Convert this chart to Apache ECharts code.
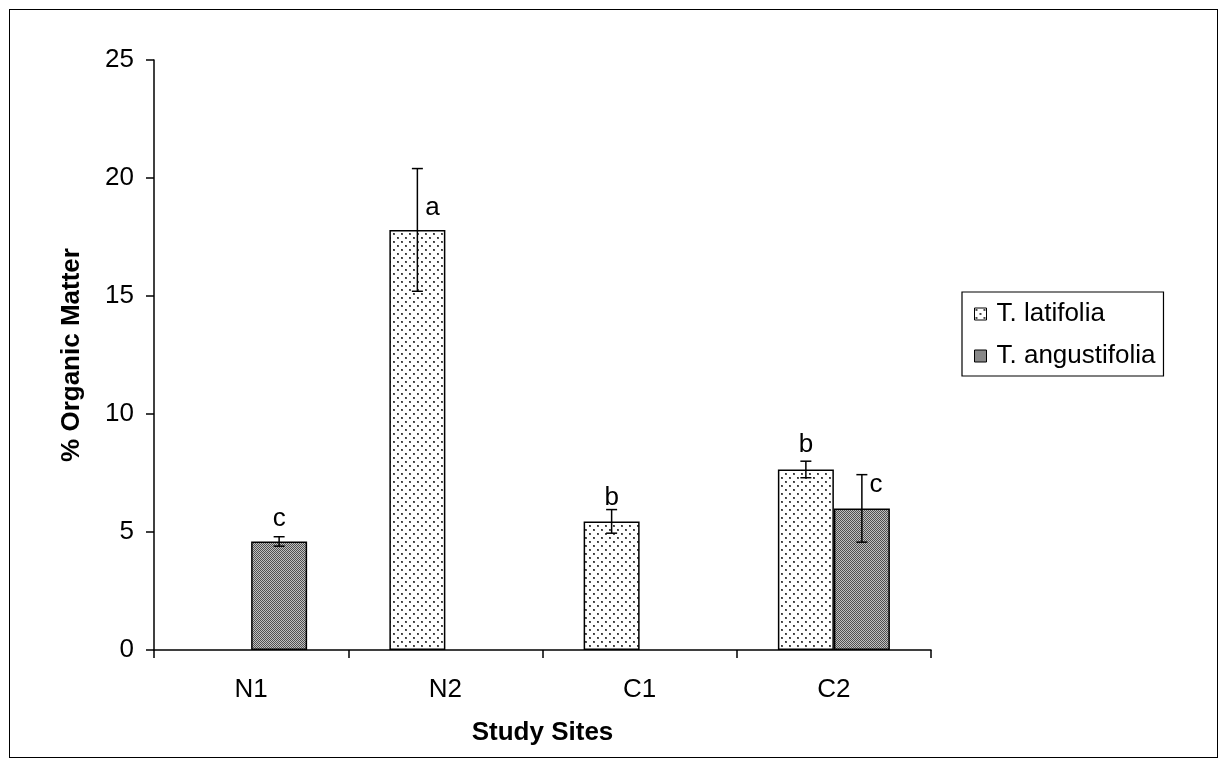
<!DOCTYPE html>
<html>
<head>
<meta charset="utf-8">
<script src="https://cdn.jsdelivr.net/npm/echarts@6/dist/echarts.min.js"></script>
<style>
html,body{margin:0;padding:0;background:#fff;}
#frame{position:absolute;left:9px;top:9px;width:1209px;height:749px;border:1.5px solid #000;box-sizing:border-box;}
#chart{position:absolute;left:0;top:0;width:1228px;height:768px;}
</style>
</head>
<body>
<div id="frame"></div>
<div id="chart"></div>
<script>
// ---- data ----
const categories = ['N1', 'N2', 'C1', 'C2'];
const seriesNames = ['T. latifolia', 'T. angustifolia'];
const latifoliaMean = [null, 17.8, 5.45, 7.65];
const latifoliaErr = [null, 2.6, 0.5, 0.35];
const latifoliaLetters = [null, 'a', 'b', 'b'];
const angustifoliaMean = [4.6, null, null, 6.0];
const angustifoliaErr = [0.2, null, null, 1.43];
const angustifoliaLetters = ['c', null, null, 'c'];
const yTicks = [0, 5, 10, 15, 20, 25];

// ---- styling ----
const FONT = 'Liberation Sans, Arial, sans-serif';
const FS = 26;
const BAR_W = 56;
// letter offsets (px) relative to top of error bar: [dx, dy]
const latLetterOffsets = [null, [15, 39], [0, -12], [0, -16]];
const angLetterOffsets = [[0, -18], null, null, [14, 10]];

function makeDots() {
  const c = document.createElement('canvas');
  c.width = 8; c.height = 8;
  const g = c.getContext('2d');
  g.fillStyle = '#ffffff'; g.fillRect(0, 0, 8, 8);
  g.fillStyle = '#555555';
  g.fillRect(1, 1, 2, 2);
  g.fillRect(5, 5, 2, 2);
  g.fillStyle = '#333333';
  g.fillRect(1, 1, 1, 1);
  g.fillRect(5, 5, 1, 1);
  return c;
}
function makeCheck() {
  const c = document.createElement('canvas');
  c.width = 2; c.height = 2;
  const g = c.getContext('2d');
  g.fillStyle = '#c0c0c0'; g.fillRect(0, 0, 2, 2);
  g.fillStyle = '#505050';
  g.fillRect(0, 0, 1, 1); g.fillRect(1, 1, 1, 1);
  return c;
}
const dotPattern = { image: makeDots(), repeat: 'repeat' };
const checkPattern = { image: makeCheck(), repeat: 'repeat' };

const chart = echarts.init(document.getElementById('chart'), null, { renderer: 'canvas' });

function errData(means, errs, letters, offs) {
  return means.map((m, i) => m == null ? null : [i, m, errs[i], letters[i], offs[i][0], offs[i][1]]).filter(d => d);
}

function errRender(sign) {
  return function (params, api) {
    const i = api.value(0), m = api.value(1), e = api.value(2);
    const base = api.coord([i, m]);
    const x = base[0] + sign * BAR_W / 2;
    const top = api.coord([i, m + e])[1];
    const bot = api.coord([i, m - e])[1];
    const cap = 5.5;
    const ls = { stroke: '#000', lineWidth: 1.5 };
    const d = api.value(3);
    return {
      type: 'group',
      children: [
        { type: 'line', shape: { x1: x, y1: top, x2: x, y2: bot }, style: ls },
        { type: 'line', shape: { x1: x - cap, y1: top, x2: x + cap, y2: top }, style: ls },
        { type: 'line', shape: { x1: x - cap, y1: bot, x2: x + cap, y2: bot }, style: ls },
        { type: 'text', style: { text: d, x: x + api.value(4), y: top + api.value(5), fontFamily: FONT, fontSize: FS, fill: '#000', align: 'center', verticalAlign: 'middle' } }
      ]
    };
  };
}

const latErr = errData(latifoliaMean, latifoliaErr, latifoliaLetters, latLetterOffsets);
const angErr = errData(angustifoliaMean, angustifoliaErr, angustifoliaLetters, angLetterOffsets);

chart.setOption({
  animation: false,
  backgroundColor: 'transparent',
  grid: { left: 154, right: 297, top: 60, bottom: 118, containLabel: false },
  legend: {
    orient: 'vertical',
    left: 962, top: 292,
    padding: [7, 8, 5, 12],
    borderColor: '#000', borderWidth: 1.2,
    itemWidth: 12, itemHeight: 12, itemGap: 12,
    icon: 'rect',
    itemStyle: { borderColor: '#000', borderWidth: 1 },
    textStyle: { fontFamily: FONT, fontSize: FS, lineHeight: 30, color: '#000', padding: [0, 0, 0, 5] },
    data: seriesNames
  },
  xAxis: {
    type: 'category',
    data: categories,
    name: 'Study Sites',
    nameLocation: 'middle',
    nameGap: 70,
    nameTextStyle: { fontFamily: FONT, fontSize: FS, fontWeight: 'bold', color: '#000' },
    axisLine: { lineStyle: { color: '#000', width: 1.5 } },
    axisTick: { show: true, length: 8, lineStyle: { color: '#000', width: 1.5 } },
    axisLabel: { fontFamily: FONT, fontSize: FS, color: '#000', margin: 27 },
    splitLine: { show: false }
  },
  yAxis: {
    type: 'value',
    min: yTicks[0], max: yTicks[yTicks.length - 1], interval: yTicks[1] - yTicks[0],
    name: '% Organic Matter',
    nameLocation: 'middle',
    nameGap: 69,
    nameTextStyle: { fontFamily: FONT, fontSize: FS, fontWeight: 'bold', color: '#000' },
    axisLine: { show: true, lineStyle: { color: '#000', width: 1.5 } },
    axisTick: { show: true, length: 8, lineStyle: { color: '#000', width: 1.5 } },
    axisLabel: { fontFamily: FONT, fontSize: FS, color: '#000', margin: 20 },
    splitLine: { show: false }
  },
  series: [
    {
      name: seriesNames[0], type: 'bar', data: latifoliaMean,
      barWidth: BAR_W, barGap: '0%',
      itemStyle: { color: dotPattern, borderColor: '#000', borderWidth: 1.5 }
    },
    {
      name: seriesNames[1], type: 'bar', data: angustifoliaMean,
      barWidth: BAR_W, barGap: '0%',
      itemStyle: { color: checkPattern, borderColor: '#000', borderWidth: 1.5 }
    },
    {
      type: 'custom', name: 'latErr', data: latErr, renderItem: errRender(-1), z: 5,
      encode: { x: 0, y: [1] }, silent: true
    },
    {
      type: 'custom', name: 'angErr', data: angErr, renderItem: errRender(1), z: 5,
      encode: { x: 0, y: [1] }, silent: true
    }
  ]
});
</script>
</body>
</html>
